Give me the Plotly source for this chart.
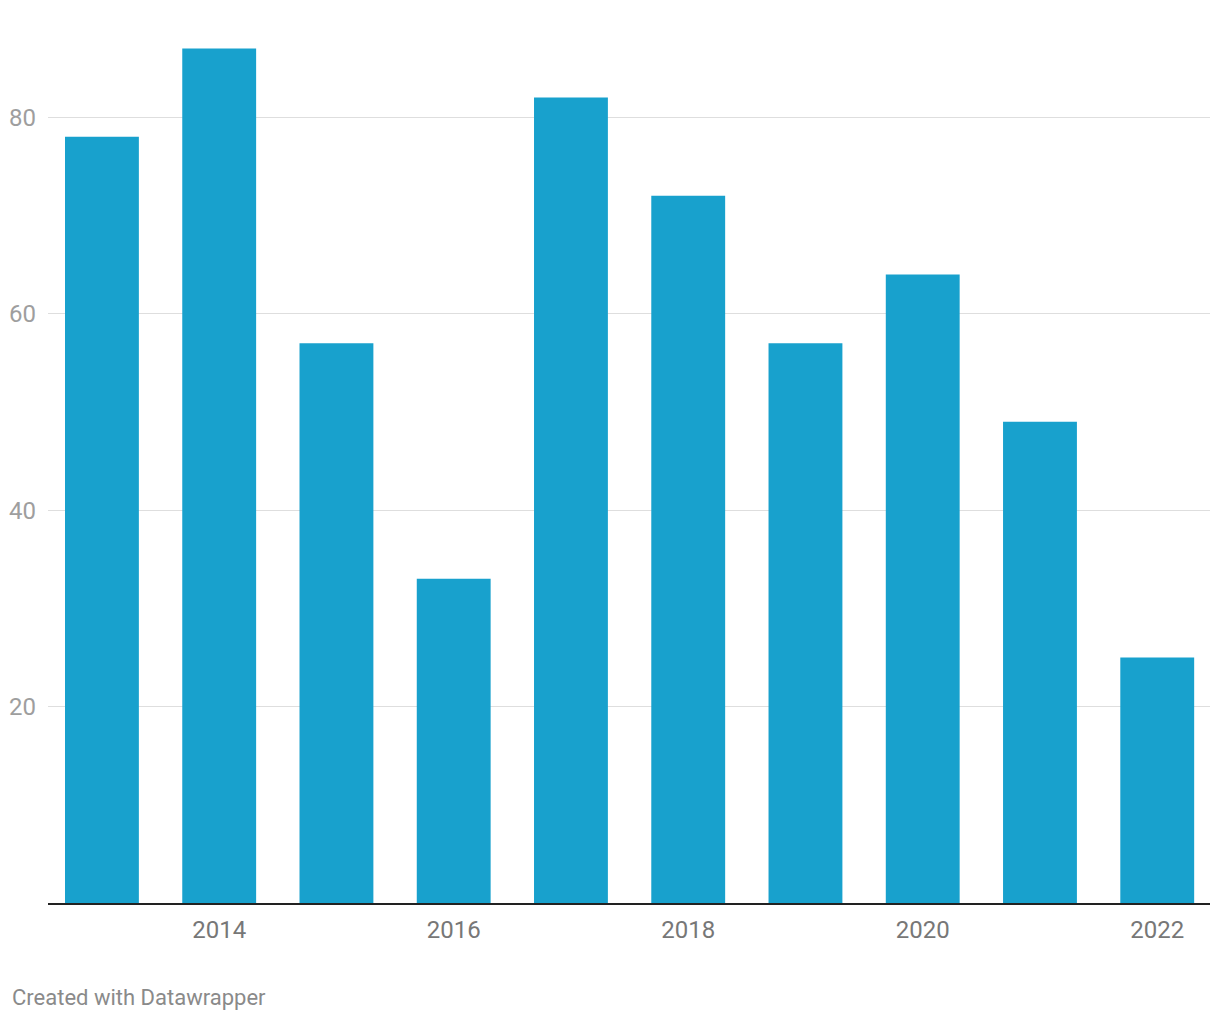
import plotly.graph_objects as go

years = [2013, 2014, 2015, 2016, 2017, 2018, 2019, 2020, 2021, 2022]
values = [78, 87, 57, 33, 82, 72, 57, 64, 49, 25]
y_ticks = [20, 40, 60, 80]
x_ticks = [2014, 2016, 2018, 2020, 2022]

fig = go.Figure(go.Bar(x=years, y=values, marker=dict(color="#18a1cd", line=dict(width=0)),
                       width=0.63, hoverinfo="x+y"))

fig.update_layout(
    width=1220, height=1020,
    margin=dict(l=40, r=18, t=11, b=125),
    paper_bgcolor="white", plot_bgcolor="white",
    font=dict(family="Roboto", size=24, color="#777777"),
    showlegend=False,
    xaxis=dict(range=[2012.54, 2022.45], tickvals=x_ticks, ticktext=[str(t) for t in x_ticks],
               showgrid=False, showline=True, linecolor="#222222", linewidth=2, automargin=False,
               ticks="", ticklabelstandoff=4, tickfont=dict(color="#777777", size=24), zeroline=False),
    yaxis=dict(range=[0, 90], tickvals=y_ticks, showgrid=True, gridcolor="#dedede", gridwidth=1,
               zeroline=False, showline=False, ticks="", ticklabelstandoff=11, automargin=False,
               tickfont=dict(color="#9e9e9e", size=24)),
    annotations=[dict(text="Created with Datawrapper", xref="paper", yref="paper",
                      x=-38/1162, y=-94/884, xanchor="left", yanchor="middle", showarrow=False,
                      font=dict(family="Roboto", size=22, color="#8a8a8a"))],
)

fig.write_html("out.html")
